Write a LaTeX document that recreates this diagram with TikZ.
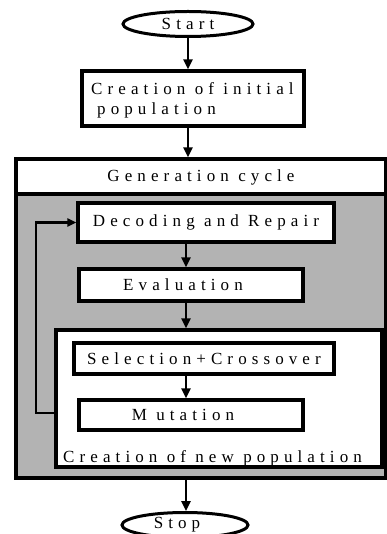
\documentclass[tikz,border=0pt]{standalone}
\usepackage{fontspec}
\setmainfont[LetterSpace=30]{Liberation Serif}
\usetikzlibrary{arrows.meta,shapes.geometric}
\definecolor{cyclegray}{RGB}{179,179,179}
\begin{document}
\begin{tikzpicture}[x=1pt,y=-1pt,
  font=\fontsize{17}{20}\selectfont,
  box/.style={draw,line width=3.2pt,fill=white,inner sep=0pt},
  term/.style={draw,ellipse,line width=3pt,fill=white,inner sep=0pt},
  txt/.style={inner sep=0pt},
  arr/.style={line width=2.4pt,-{Triangle[length=10pt,width=9pt]}}]
\useasboundingbox (0,0) rectangle (387,534);
% generation cycle frame
\fill[cyclegray] (16,194) rectangle (386,478);
\node[draw,line width=3.2pt,inner sep=0pt,minimum width=370pt,minimum height=319pt] (gen) at (201,318.5) {};
\coordinate (hdr) at (0,194);
\draw[line width=3.2pt] (gen.west |- hdr) -- (gen.east |- hdr);
\node[txt] (gentext) at (201,177) {Generation cycle};
% terminals
\node[term,minimum width=130pt,minimum height=25pt] (start) at (188,24) {Start};
\node[term,minimum width=126pt,minimum height=25pt] (stop) at (185,525) {Stop\hspace*{16pt}};
% boxes
\node[box,minimum width=222pt,minimum height=55pt] (creation) at (193,98.5) {};
\node[txt,anchor=base west] (cr1) at (91,95) {Creation of initial};
\node[txt,anchor=base west] (cr2) at (97,114.5) {population};
\node[box,minimum width=256pt,minimum height=39pt] (decoding) at (206,222.5) {Decoding and Repair};
\node[box,minimum width=224pt,minimum height=32pt] (evaluation) at (191,285) {Evaluation\hspace*{16pt}};
\node[box,minimum width=326pt,minimum height=137pt] (newpop) at (219,398.5) {};
\node[txt,anchor=base west] (newtext) at (63,462) {Creation of new population};
\node[box,minimum width=260pt,minimum height=31pt] (selection) at (204,358.5) {Selection+Crossover};
\node[box,minimum width=224pt,minimum height=30pt] (mutation) at (191,415) {M utation\hspace*{16pt}};
% connectors
\coordinate (axis) at (186,0);
\coordinate (fb) at (36,413);
\draw[arr] (start) -- (start |- creation.north);
\draw[arr] (creation.south -| start) -- (gen.north -| start);
\draw[arr] (decoding.south -| axis) -- (evaluation.north -| axis);
\draw[arr] (evaluation.south -| axis) -- (newpop.north -| axis);
\draw[arr] (selection.south -| axis) -- (mutation.north -| axis);
\draw[arr] (gen.south -| axis) -- (stop.north -| axis);
\draw[arr,-{Triangle[length=9pt,width=8pt]}] (newpop.west |- fb) -- (fb) |- (decoding.west);
\end{tikzpicture}
\end{document}
